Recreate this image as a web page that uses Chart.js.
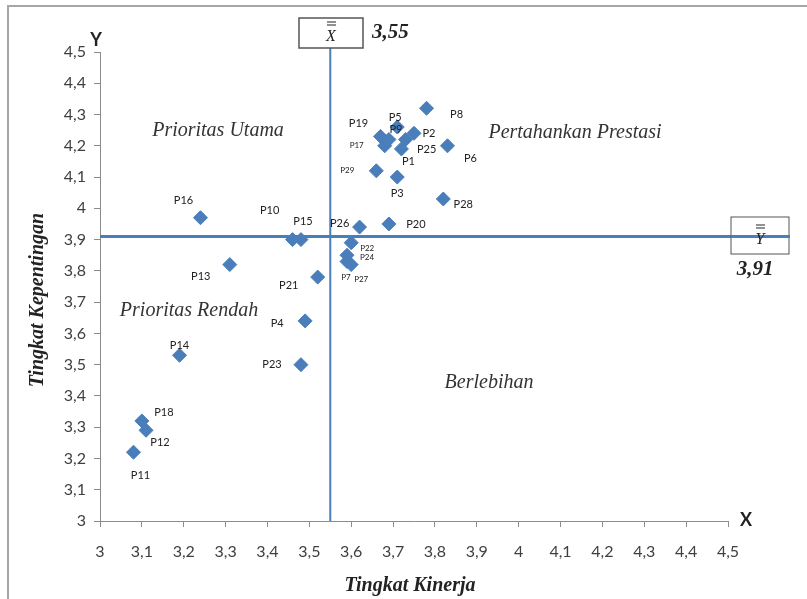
<!DOCTYPE html>
<html>
<head>
<meta charset="utf-8">
<script src="https://cdn.jsdelivr.net/npm/chart.js@4/dist/chart.umd.min.js"></script>
<style>
  body { margin: 0; background: #fff; }
  #wrap { width: 807px; height: 599px; }
</style>
</head>
<body>
<div id="wrap"><canvas id="ipa"></canvas></div>
<script>
// atribut P1..P29 : tingkat kinerja (X) dan tingkat kepentingan (Y)
var atribut = ['P1','P2','P3','P4','P5','P6','P7','P8','P9','P10',
               'P11','P12','P13','P14','P15','P16','P17','P18','P19','P20',
               'P21','P22','P23','P24','P25','P26','P27','P28','P29'];
var kinerja = [3.72, 3.75, 3.71, 3.49, 3.71, 3.83, 3.59, 3.78, 3.69, 3.46,
               3.08, 3.11, 3.31, 3.19, 3.48, 3.24, 3.68, 3.10, 3.67, 3.69,
               3.52, 3.60, 3.48, 3.59, 3.73, 3.62, 3.60, 3.82, 3.66];
var kepentingan = [4.19, 4.24, 4.10, 3.64, 4.26, 4.20, 3.83, 4.32, 4.22, 3.90,
                   3.22, 3.29, 3.82, 3.53, 3.90, 3.97, 4.20, 3.32, 4.23, 3.95,
                   3.78, 3.89, 3.50, 3.85, 4.22, 3.94, 3.82, 4.03, 4.12];
var rataX = 3.55;
var rataY = 3.91;
var xTicks = [3, 3.1, 3.2, 3.3, 3.4, 3.5, 3.6, 3.7, 3.8, 3.9, 4, 4.1, 4.2, 4.3, 4.4, 4.5];

// posisi label titik (offset piksel dari titik) + ukuran huruf kecil
var labelOff = {
  P1:[7,13], P2:[15,0], P3:[0,16], P4:[-28,3], P5:[-2,-10], P6:[23,13], P7:[-1,16],
  P8:[30,6], P9:[7,-10], P10:[-23,-29], P11:[7,23], P12:[14,12], P13:[-29,12],
  P14:[0,-10], P15:[2,-18], P16:[-17,-17], P17:[-28,0], P18:[22,-8], P19:[-22,-13],
  P20:[27,0], P21:[-29,8], P22:[16,6], P23:[-29,0], P24:[20,2], P25:[21,10],
  P26:[-20,-4], P27:[10,15], P28:[20,5], P29:[-29,0]
};
var kecil = ['P7','P17','P22','P24','P27','P29'];

var BLUE = '#4a7ebb';
var SERIF = '"Liberation Serif", "DejaVu Serif", serif';
var SANS = 'Lato, "Open Sans", sans-serif';

var points = atribut.map(function(a, i) {
  return { x: kinerja[i], y: kepentingan[i], label: a };
});

function fmt(v) {
  return String(Math.round(v * 10) / 10).replace('.', ',');
}

function barText(ctx, ch, x, y) {
  ctx.fillText(ch, x, y);
  ctx.beginPath();
  ctx.moveTo(x - 4, y - 12); ctx.lineTo(x + 5, y - 12);
  ctx.moveTo(x - 4, y - 15); ctx.lineTo(x + 5, y - 15);
  ctx.lineWidth = 1;
  ctx.strokeStyle = '#222';
  ctx.stroke();
}

var kuadran = {
  id: 'kuadran',
  beforeDraw: function(chart) {
    var ctx = chart.ctx;
    ctx.save();
    ctx.fillStyle = '#fff';
    ctx.fillRect(0, 0, chart.width, chart.height);
    // bingkai
    ctx.strokeStyle = '#a6a6a6';
    ctx.lineWidth = 2;
    ctx.beginPath();
    ctx.moveTo(8, 620); ctx.lineTo(8, 6); ctx.lineTo(820, 6);
    ctx.stroke();
    ctx.restore();
  },
  beforeDatasetsDraw: function(chart) {
    var ctx = chart.ctx, xs = chart.scales.x, ys = chart.scales.y;
    var px = xs.getPixelForValue(rataX), py = ys.getPixelForValue(rataY);
    ctx.save();
    ctx.strokeStyle = BLUE;
    ctx.lineWidth = 2;
    ctx.beginPath();
    ctx.moveTo(px, 48); ctx.lineTo(px, ys.bottom);
    ctx.stroke();
    ctx.lineWidth = 3;
    ctx.beginPath();
    ctx.moveTo(xs.left, py); ctx.lineTo(790, py);
    ctx.stroke();

    // teks kuadran
    ctx.fillStyle = '#333';
    ctx.font = 'italic 20px ' + SERIF;
    ctx.textAlign = 'center';
    ctx.textBaseline = 'middle';
    ctx.fillText('Prioritas Utama', 218, 131);
    ctx.fillText('Pertahankan Prestasi', 575, 133);
    ctx.fillText('Prioritas Rendah', 189, 311);
    ctx.fillText('Berlebihan', 489, 383);
    ctx.restore();
  },
  afterDatasetsDraw: function(chart) {
    var ctx = chart.ctx, xs = chart.scales.x, ys = chart.scales.y;
    var py = ys.getPixelForValue(rataY);
    ctx.save();
    ctx.textAlign = 'center';
    ctx.textBaseline = 'middle';
    // label titik
    points.forEach(function(p) {
      var o = labelOff[p.label];
      ctx.fillStyle = '#222';
      ctx.font = (kecil.indexOf(p.label) >= 0 ? '8px ' : '11px ') + SANS;
      ctx.fillText(p.label, xs.getPixelForValue(p.x) + o[0], ys.getPixelForValue(p.y) + o[1]);
    });

    // kotak rata-rata X
    ctx.fillStyle = '#fff';
    ctx.fillRect(299, 18, 64, 30);
    ctx.strokeStyle = '#555';
    ctx.lineWidth = 1.5;
    ctx.strokeRect(299, 18, 64, 30);
    ctx.fillStyle = '#222';
    ctx.font = 'italic 16px ' + SERIF;
    barText(ctx, 'X', 331, 37);
    ctx.font = 'bold italic 21px ' + SERIF;
    ctx.textAlign = 'left';
    ctx.fillText('3,55', 372, 33);

    // kotak rata-rata Y
    ctx.fillStyle = '#fff';
    ctx.fillRect(731, 217, 58, 37);
    ctx.strokeStyle = '#555';
    ctx.strokeRect(731, 217, 58, 37);
    ctx.strokeStyle = BLUE;
    ctx.lineWidth = 3;
    ctx.beginPath();
    ctx.moveTo(731, py); ctx.lineTo(790, py);
    ctx.stroke();
    ctx.fillStyle = '#222';
    ctx.textAlign = 'center';
    ctx.font = 'italic 16px ' + SERIF;
    barText(ctx, 'Y', 760, 240);
    ctx.font = 'bold italic 21px ' + SERIF;
    ctx.fillText('3,91', 755, 270);

    // judul sumbu
    ctx.fillStyle = '#222';
    ctx.font = 'bold italic 20px ' + SERIF;
    ctx.fillText('Tingkat Kinerja', 410, 586);
    ctx.save();
    ctx.translate(38, 300);
    ctx.rotate(-Math.PI / 2);
    ctx.fillText('Tingkat Kepentingan', 0, 0);
    ctx.restore();
    ctx.font = 'bold 18px ' + SANS;
    ctx.fillText('Y', 96, 40);
    ctx.fillText('X', 746, 520);
    ctx.restore();
  }
};

new Chart(document.getElementById('ipa'), {
  type: 'scatter',
  data: {
    datasets: [{
      label: 'Atribut',
      data: points,
      backgroundColor: BLUE,
      borderColor: BLUE,
      pointStyle: 'rectRot',
      pointRadius: 7,
      pointHoverRadius: 7
    }]
  },
  options: {
    responsive: true,
    maintainAspectRatio: false,
    animation: false,
    layout: { padding: { left: 0, right: 79, top: 52, bottom: 0 } },
    plugins: {
      legend: { display: false },
      tooltip: { enabled: false }
    },
    scales: {
      x: {
        type: 'linear',
        min: 3, max: 4.5,
        afterBuildTicks: function(s) { s.ticks = xTicks.map(function(v) { return { value: v }; }); },
        afterFit: function(s) { s.height = 78; },
        grid: { drawOnChartArea: false, drawTicks: true, tickLength: 6, color: '#8c8c8c' },
        border: { display: true, color: '#8c8c8c', width: 1 },
        ticks: {
          padding: 15,
          color: '#404040',
          font: { family: SANS, size: 16 },
          maxRotation: 0,
          autoSkip: false,
          callback: fmt
        }
      },
      y: {
        type: 'linear',
        min: 3, max: 4.5,
        afterBuildTicks: function(s) { s.ticks = xTicks.map(function(v) { return { value: v }; }); },
        afterFit: function(s) { s.width = 100; },
        grid: { drawOnChartArea: false, drawTicks: true, tickLength: 6, color: '#8c8c8c' },
        border: { display: true, color: '#8c8c8c', width: 1 },
        ticks: {
          padding: 8,
          color: '#404040',
          font: { family: SANS, size: 16 },
          autoSkip: false,
          callback: fmt
        }
      }
    }
  },
  plugins: [kuadran]
});
</script>
</body>
</html>
